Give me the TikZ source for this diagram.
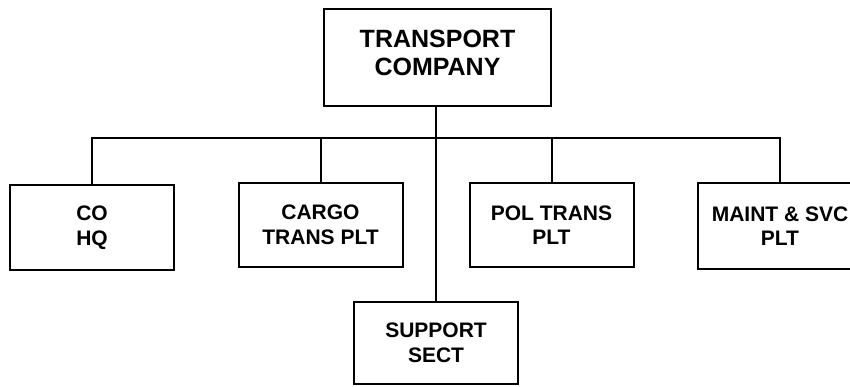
\documentclass[tikz,border=0pt]{standalone}
\usepackage{fontspec}
\setmainfont{Liberation Sans}
\begin{document}
\begin{tikzpicture}[x=1pt,y=-1pt,
  every node/.style={font=\bfseries\fontsize{21}{24.5}\selectfont,align=center},
  unitbox/.style={draw,line width=2pt,inner sep=0pt,minimum width=164pt,minimum height=84pt},
  link/.style={draw,line width=2pt}]
  \useasboundingbox (0,0) rectangle (850,386);
  \clip (0,0) rectangle (850,386);
  \node[unitbox,minimum width=227pt,minimum height=97pt] (coy) at (437.5,57.5) {};
  \node[font=\bfseries\fontsize{25}{28}\selectfont] (coytxt) at (437.5,53) {TRANSPORT\\COMPANY};
  \node[unitbox,minimum height=85pt] (cohq) at (92,227.5) {CO\\HQ};
  \node[unitbox] (cargo) at (320.5,225) {CARGO\\TRANS PLT};
  \node[unitbox] (pol) at (551.5,225) {POL TRANS\\PLT};
  \node[unitbox,minimum height=86pt] (maint) at (780,226) {MAINT \& SVC\\PLT};
  \node[unitbox,minimum height=82pt] (sect) at (436,343) {SUPPORT\\SECT};
  \coordinate (bus) at (436,138);
  % connectors
  \draw[link] (coy.south -| bus) -- (sect.north -| bus);
  \draw[link] (cohq.north) |- (bus) -| (maint.north);
  \foreach \plt in {cargo,pol}
    \draw[link] (\plt.north) -- (\plt.north |- bus);
\end{tikzpicture}
\end{document}
